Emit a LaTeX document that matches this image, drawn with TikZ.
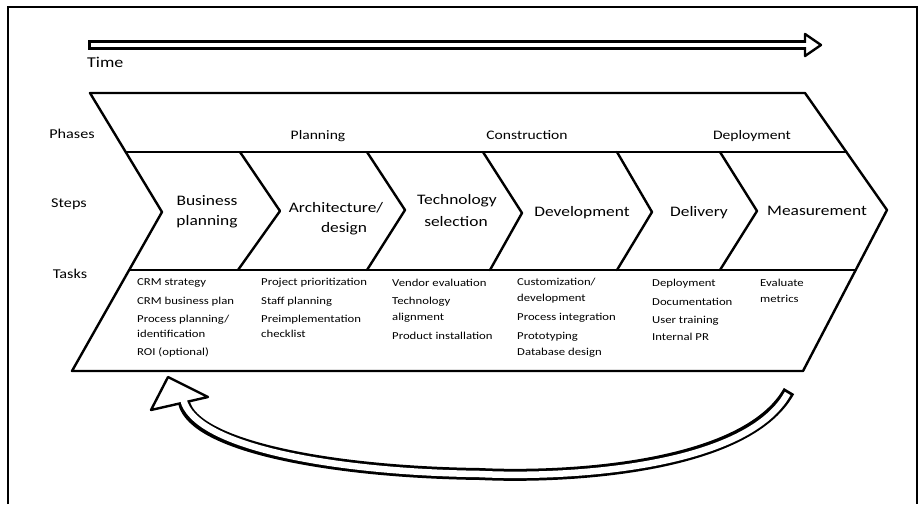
\documentclass[tikz,border=0pt]{standalone}
\usepackage{fontspec}
\setmainfont{Carlito}[FakeStretch=1.2]
\begin{document}
\begin{tikzpicture}[x=1pt,y=-1pt,
  edge/.style={line width=2.4pt, line join=round, line cap=round},
  stepl/.style={font=\fontsize{14.5}{17}\selectfont, anchor=base, inner sep=0pt},
  phasel/.style={font=\fontsize{13}{15}\selectfont, anchor=base, inner sep=0pt},
  rowl/.style={font=\fontsize{13.5}{15}\selectfont, anchor=base, inner sep=0pt},
  taskl/.style={font=\fontsize{10.6}{12}\selectfont, anchor=base west, inner sep=0pt},
  hollowhead/.style={line width=2.4pt, line join=round, fill=white},
]
\useasboundingbox (0,0) rectangle (923,504);
% frame
\draw[line width=2.5pt] (8,504) -- (8,7) -- (917,7) -- (917,504);

% time arrow
\coordinate (t0) at (88,45);
\coordinate (t1) at (806,45);
\draw[line width=10pt] (t0) -- (t1);
\draw[hollowhead] (805,34) -- (821,45) -- (805,56) -- cycle;
\draw[line width=3.8pt, white, shorten <=2.8pt, shorten >=-3pt] (t0) -- (t1);
\node[font=\fontsize{15}{17}\selectfont, anchor=base west, inner sep=0pt] (time) at (87,67) {Time};

% main chevron band
\coordinate (A) at (90,93);
\coordinate (B) at (805,93);
\coordinate (Rt) at (887,210);
\coordinate (C) at (803,371);
\coordinate (D) at (72,371);
\coordinate (Lt) at (162,212);
\draw[edge, fill=white] (A) -- (B) -- (Rt) -- (C) -- (D) -- (Lt) -- cycle;
\draw[edge] (125.7,152) -- (846.4,152);
\draw[edge] (129.2,270) -- (855.7,270);
% step dividers
\draw[edge] (240,152) -- (280,211) -- (238,270);
\draw[edge] (367,152) -- (405,210) -- (367,270);
\draw[edge] (483,152) -- (522,213) -- (490,270);
\draw[edge] (617,152) -- (652,212) -- (617,270);
\draw[edge] (720,152) -- (757,211) -- (720,270);

% row labels
\node[rowl] (lphases) at (72,138) {Phases};
\node[rowl] (lsteps) at (69,207) {Steps};
\node[rowl] (ltasks) at (70,278) {Tasks};

% phases
\node[phasel] (pplan) at (318,139) {Planning};
\node[phasel] (pcons) at (527,139) {Construction};
\node[phasel] (pdep) at (752,139) {Deployment};

% steps
\node[stepl] (s1a) at (207,205) {Business};
\node[stepl] (s1b) at (207,225) {planning};
\node[stepl] (s2a) at (336,212) {Architecture/};
\node[stepl] (s2b) at (344,232) {design};
\node[stepl] (s3a) at (457,204) {Technology};
\node[stepl] (s3b) at (456,226) {selection};
\node[stepl] (s4) at (582,216) {Development};
\node[stepl] (s5) at (699,216) {Delivery};
\node[stepl] (s6) at (817,215) {Measurement};

% tasks column 1
\node[taskl] (k11) at (137,285) {CRM strategy};
\node[taskl] (k12) at (137,304) {CRM business plan};
\node[taskl] (k13) at (137,322) {Process planning/};
\node[taskl] (k14) at (137,337) {identification};
\node[taskl] (k15) at (137,355) {ROI (optional)};
% column 2
\node[taskl] (k21) at (261,285) {Project prioritization};
\node[taskl] (k22) at (261,304) {Staff planning};
\node[taskl] (k23) at (261,322) {Preimplementation};
\node[taskl] (k24) at (261,337) {checklist};
% column 3
\node[taskl] (k31) at (392,286) {Vendor evaluation};
\node[taskl] (k32) at (392,304) {Technology};
\node[taskl] (k33) at (392,320) {alignment};
\node[taskl] (k34) at (392,339) {Product installation};
% column 4
\node[taskl] (k41) at (517,285) {Customization/};
\node[taskl] (k42) at (517,301) {development};
\node[taskl] (k43) at (517,320) {Process integration};
\node[taskl] (k44) at (517,339) {Prototyping};
\node[taskl] (k45) at (517,355) {Database design};
% column 5
\node[taskl] (k51) at (652,286) {Deployment};
\node[taskl] (k52) at (652,305) {Documentation};
\node[taskl] (k53) at (652,323) {User training};
\node[taskl] (k54) at (652,340) {Internal PR};
% column 6
\node[taskl] (k61) at (760,286) {Evaluate};
\node[taskl] (k62) at (760,302) {metrics};

% feedback arrow
\coordinate (ctail) at (789,391);
\coordinate (cmid) at (480,474);
\coordinate (chead) at (184,402.5);
\draw[line width=12pt] (ctail) .. controls (745,470) and (560,478) .. (cmid) .. controls (330,472) and (194,446) .. (chead);
\draw[hollowhead] (151,410) -- (168,377) -- (208,397) -- cycle;
\draw[line width=6.5pt, white, shorten <=2.8pt, shorten >=-3pt] (ctail) .. controls (745,470) and (560,478) .. (cmid) .. controls (330,472) and (194,446) .. (chead);
\end{tikzpicture}
\end{document}
